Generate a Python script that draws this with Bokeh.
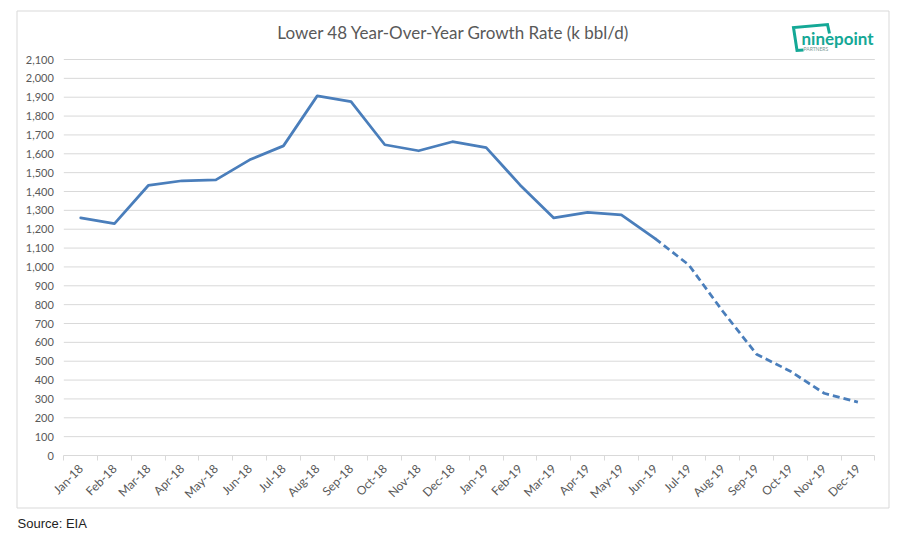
import math
from bokeh.plotting import figure
from bokeh.models import (FixedTicker, NumeralTickFormatter, Label, BoxAnnotation,
                          PolyAnnotation, Range1d)
from bokeh.embed import file_html
from bokeh.resources import INLINE

# ---- data ----
months = ["Jan-18", "Feb-18", "Mar-18", "Apr-18", "May-18", "Jun-18", "Jul-18", "Aug-18",
          "Sep-18", "Oct-18", "Nov-18", "Dec-18", "Jan-19", "Feb-19", "Mar-19", "Apr-19",
          "May-19", "Jun-19", "Jul-19", "Aug-19", "Sep-19", "Oct-19", "Nov-19", "Dec-19"]
actual_months = months[:18]
actual = [1260, 1230, 1432, 1457, 1462, 1568, 1642, 1907, 1877, 1648, 1616, 1664,
          1633, 1435, 1260, 1289, 1276, 1150]
forecast_months = months[17:]
forecast = [1150, 1010, 765, 537, 447, 330, 283]
y_ticks = list(range(0, 2101, 100))

title_text = "Lower 48 Year-Over-Year Growth Rate (k bbl/d)"
source_text = "Source: EIA"

BLUE = "#4a7ebb"
GREY_TXT = "#595959"
GRID = "#d9d9d9"
TEAL = "#14a896"

# ---- layout (pixels) ----
W, H = 902, 535
PX_LEFT, PX_RIGHT = 63.3, 874.3      # plot area left/right
PX_TOP, PX_BOTTOM = 59.0, 455.0      # y of top tick / zero line
n = len(months)
y_top = y_ticks[-1]
xs_per_px = n / (PX_RIGHT - PX_LEFT)
ys_per_px = y_top / (PX_BOTTOM - PX_TOP)
x_range = Range1d(-PX_LEFT * xs_per_px, n + (W - PX_RIGHT) * xs_per_px)
y_range = Range1d(-(H - PX_BOTTOM) * ys_per_px, y_top + PX_TOP * ys_per_px)

pos = {m: i + 0.5 for i, m in enumerate(months)}

p = figure(width=W, height=H, x_range=x_range, y_range=y_range,
           output_backend="svg", toolbar_location=None,
           min_border_left=0, min_border_right=0, min_border_top=0, min_border_bottom=0)
p.background_fill_color = "white"
p.border_fill_color = "white"
p.outline_line_color = None
p.xgrid.visible = False
p.ygrid.visible = False

# horizontal gridlines over the plot area
p.segment(x0=0, x1=n, y0=y_ticks[1:], y1=y_ticks[1:], line_color=GRID, line_width=1)

xa = p.xaxis[0]
xa.fixed_location = 0
xa.bounds = (0, n)
xa.ticker = FixedTicker(ticks=[pos[m] for m in months], minor_ticks=list(range(n + 1)))
xa.major_label_overrides = {pos[m]: m for m in months}
xa.major_tick_line_color = None
xa.major_tick_out = 0
xa.major_tick_in = 0
xa.minor_tick_line_color = GRID
xa.minor_tick_out = 5
xa.minor_tick_in = 0
xa.axis_line_color = GRID
xa.major_label_orientation = math.pi / 4
xa.major_label_text_font = "Lato"
xa.major_label_text_font_size = "12px"
xa.major_label_text_color = GREY_TXT
xa.major_label_standoff = 6

ya = p.yaxis[0]
ya.fixed_location = 0
ya.bounds = (0, y_top)
ya.ticker = FixedTicker(ticks=y_ticks)
ya.formatter = NumeralTickFormatter(format="0,0")
ya.axis_line_color = None
ya.major_tick_line_color = None
ya.minor_tick_line_color = None
ya.major_tick_out = 0
ya.major_tick_in = 0
ya.major_label_standoff = 10
ya.major_label_text_font = "Lato"
ya.major_label_text_font_size = "11px"
ya.major_label_text_color = GREY_TXT

p.line([pos[m] for m in actual_months], actual, line_color=BLUE, line_width=2.75,
       line_join="round", line_cap="round")
p.line([pos[m] for m in forecast_months], forecast, line_color=BLUE, line_width=2.75,
       line_dash="7 4", line_join="round")

# chart box
p.add_layout(BoxAnnotation(left=16.5, right=888.5, top=10.5, bottom=507.5,
                           left_units="canvas", right_units="canvas",
                           top_units="canvas", bottom_units="canvas",
                           fill_alpha=0, line_color=GRID, line_alpha=1, line_width=1))

p.add_layout(Label(x=453, y=32, x_units="canvas", y_units="canvas", text=title_text,
                   text_align="center", text_baseline="middle", text_font="Lato",
                   text_font_size="17px", text_color=GREY_TXT))

# logo
bx = [829, 827, 793, 796.5, 803, 796.5, 793, 827]
by = [33, 24, 27, 50, 49.5, 50, 27, 24]
p.add_layout(PolyAnnotation(xs=bx, ys=by, xs_units="canvas", ys_units="canvas",
                            fill_alpha=0, line_color=TEAL, line_alpha=1, line_width=3,
                            line_join="miter"))
p.add_layout(Label(x=801, y=38, x_units="canvas", y_units="canvas", text="ninepoint",
                   text_align="left", text_baseline="middle", text_font="Lato",
                   text_font_size="17px", text_font_style="bold", text_color=TEAL))
p.add_layout(Label(x=803, y=48, x_units="canvas", y_units="canvas", text="PARTNERS",
                   text_align="left", text_baseline="middle", text_font="Lato",
                   text_font_size="5px", text_color="#7a9a96"))

p.add_layout(Label(x=17, y=523, x_units="canvas", y_units="canvas", text=source_text,
                   text_align="left", text_baseline="middle",
                   text_font="Liberation Sans", text_font_size="13px", text_color="#222222"))

open("out.html", "w").write(file_html(p, INLINE))
